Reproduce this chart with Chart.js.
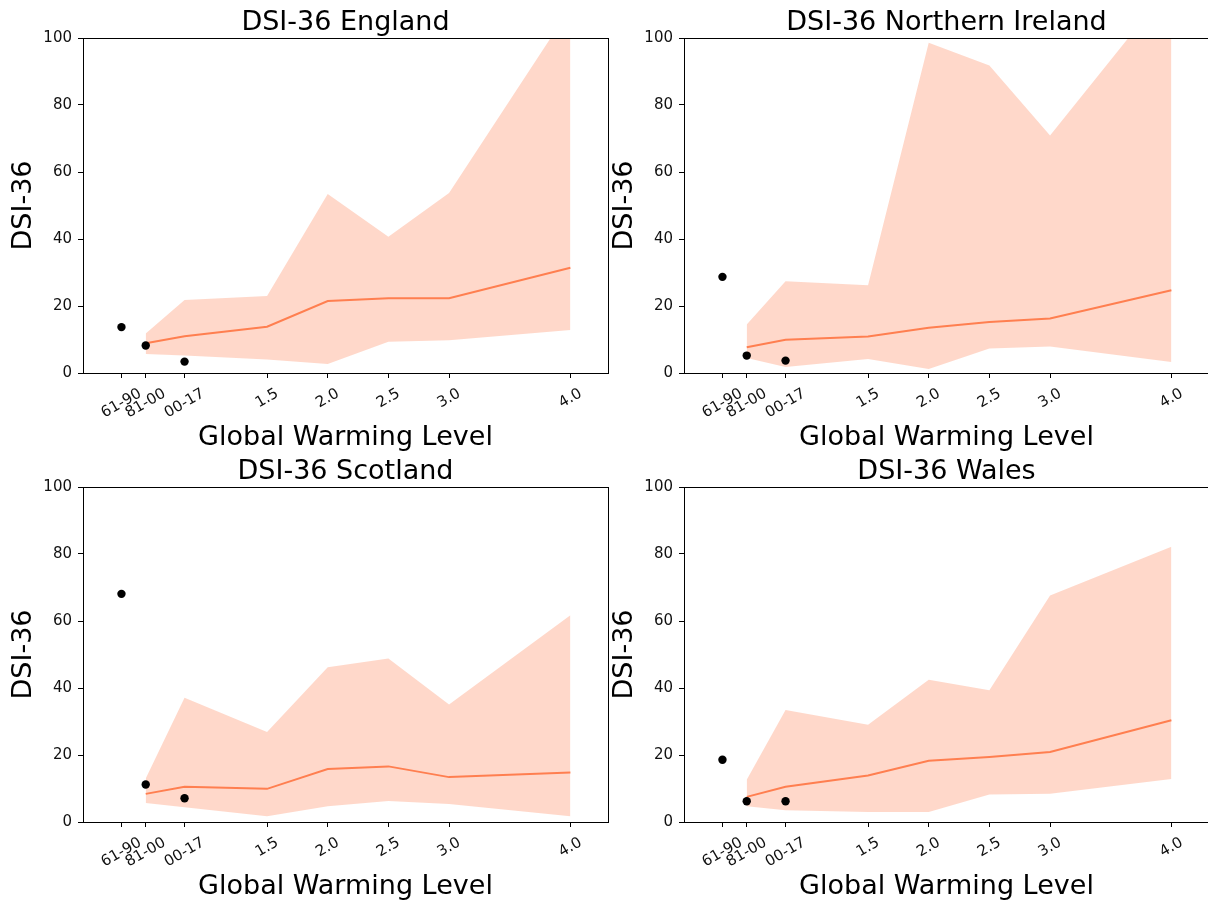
<!DOCTYPE html>
<html>
<head>
<meta charset="utf-8">
<script src="https://cdn.jsdelivr.net/npm/chart.js@4.4.1/dist/chart.umd.min.js"></script>
<style>
  html, body { margin: 0; padding: 0; background: #fff; overflow: hidden; width: 1208px; height: 904px; }
  canvas { position: absolute; }
</style>
</head>
<body>
<canvas id="c-eng" width="620" height="460" style="left:0px;top:0px"></canvas>
<canvas id="c-ni" width="620" height="460" style="left:601px;top:0px"></canvas>
<canvas id="c-sco" width="620" height="460" style="left:0px;top:449px"></canvas>
<canvas id="c-wal" width="620" height="460" style="left:601px;top:449px"></canvas>
<script>
// Tick positions on the warming-level axis and their labels
const tickValues = [0.3, 0.5, 0.82, 1.5, 2.0, 2.5, 3.0, 4.0];
const tickLabels = ['61-90', '81-00', '00-17', '1.5', '2.0', '2.5', '3.0', '4.0'];

// x positions of the projected ensemble and of the observed periods
const gwlX = [0.5, 0.82, 1.5, 2.0, 2.5, 3.0, 4.0];
const obsX = [0.3, 0.5, 0.82];

// England
const englandUpper  = [11.8, 21.8, 23.0, 53.4, 40.7, 53.7, 109.0];
const englandMedian = [8.9, 11.0, 13.8, 21.5, 22.3, 22.3, 31.4];
const englandLower  = [5.7, 5.2, 4.0, 2.7, 9.3, 9.8, 12.8];
const englandObs    = [13.7, 8.2, 3.4];

// Northern Ireland
const niUpper  = [14.5, 27.4, 26.2, 98.6, 91.8, 70.9, 116.0];
const niMedian = [7.7, 9.9, 10.9, 13.5, 15.2, 16.3, 24.7];
const niLower  = [4.5, 1.8, 4.2, 1.2, 7.3, 7.9, 3.3];
const niObs    = [28.7, 5.2, 3.7];

// Scotland
const scotlandUpper  = [13.0, 37.1, 26.9, 46.2, 48.8, 35.1, 61.7];
const scotlandMedian = [8.4, 10.5, 9.9, 15.8, 16.6, 13.4, 14.8];
const scotlandLower  = [5.7, 4.4, 1.7, 4.7, 6.3, 5.4, 1.7];
const scotlandObs    = [68.1, 11.2, 7.1];

// Wales
const walesUpper  = [12.6, 33.4, 29.0, 42.5, 39.3, 67.6, 82.2];
const walesMedian = [7.5, 10.5, 13.9, 18.3, 19.4, 20.9, 30.4];
const walesLower  = [4.7, 3.5, 3.0, 3.0, 8.2, 8.4, 12.8];
const walesObs    = [18.6, 6.2, 6.2];

const FONT = "'DejaVu Sans', sans-serif";

function pts(xs, ys) {
  return xs.map((x, i) => ({ x: x, y: ys[i] }));
}

// Box around the plotting area
const frame = {
  id: 'frame',
  afterDatasetsDraw(chart) {
    const { ctx, chartArea: a } = chart;
    ctx.save();
    ctx.strokeStyle = '#000';
    ctx.lineWidth = 1;
    ctx.strokeRect(Math.round(a.left) + 0.5, Math.round(a.top) + 0.5,
                   Math.round(a.right - a.left), Math.round(a.bottom - a.top));
    ctx.restore();
  }
};

// Slanted x tick labels, each centred under its tick
const slantedTicks = {
  id: 'slantedTicks',
  afterDraw(chart) {
    const xs = chart.scales.x;
    const { ctx, chartArea: a } = chart;
    const ang = 30 * Math.PI / 180;
    const size = 15;
    ctx.save();
    ctx.font = size + 'px ' + FONT;
    ctx.fillStyle = '#111';
    ctx.textAlign = 'center';
    ctx.textBaseline = 'middle';
    tickValues.forEach((v, i) => {
      const label = tickLabels[i];
      const w = ctx.measureText(label).width;
      const h = size * 1.16;
      const boxH = w * Math.sin(ang) + h * Math.cos(ang);
      const px = xs.getPixelForValue(v);
      const cy = a.bottom + 12 + boxH / 2;
      ctx.save();
      ctx.translate(px, cy);
      ctx.rotate(-ang);
      ctx.fillText(label, 0, 0);
      ctx.restore();
    });
    ctx.restore();
  }
};

function makePanel(id, title, upper, median, lower, obs) {
  const axisTitleFont = { family: FONT, size: 27, weight: 'normal', lineHeight: 1 };
  new Chart(document.getElementById(id), {
    type: 'line',
    data: {
      datasets: [
        { label: 'upper', data: pts(gwlX, upper), borderWidth: 0, borderColor: 'rgba(0,0,0,0)',
          pointRadius: 0, fill: '+1', backgroundColor: 'rgba(255,127,80,0.3)', order: 3 },
        { label: 'lower', data: pts(gwlX, lower), borderWidth: 0, borderColor: 'rgba(0,0,0,0)',
          pointRadius: 0, fill: false, order: 4 },
        { label: 'median', data: pts(gwlX, median), borderColor: '#ff7f50', borderWidth: 2,
          pointRadius: 0, fill: false, order: 2 },
        { type: 'scatter', label: 'observed', data: pts(obsX, obs), backgroundColor: '#000',
          borderColor: '#000', borderWidth: 0, pointRadius: 4.2, showLine: false, order: 1 }
      ]
    },
    options: {
      responsive: false,
      animation: false,
      devicePixelRatio: 1,
      layout: { padding: { left: 0, right: 12, top: 0, bottom: 0 } },
      plugins: {
        legend: { display: false },
        tooltip: { enabled: false },
        title: {
          display: true, text: title, fullSize: false, color: '#000',
          font: axisTitleFont, padding: { top: 9, bottom: 2 }
        }
      },
      scales: {
        x: {
          type: 'linear', min: -0.017, max: 4.31,
          afterBuildTicks: s => { s.ticks = tickValues.map(v => ({ value: v })); },
          afterFit: s => { s.height = 87; },
          ticks: { display: false },
          grid: { drawOnChartArea: false, drawTicks: true, tickLength: 5, color: '#000', lineWidth: 1 },
          border: { display: false },
          title: { display: true, text: 'Global Warming Level', color: '#000',
                   font: axisTitleFont, padding: { top: 0, bottom: 8.8 } }
        },
        y: {
          min: 0, max: 100,
          afterFit: s => { s.width = 83; },
          ticks: { stepSize: 20, color: '#111', font: { family: FONT, size: 15 }, padding: 6 },
          grid: { drawOnChartArea: false, drawTicks: true, tickLength: 5, color: '#000', lineWidth: 1 },
          border: { display: false },
          title: { display: true, text: 'DSI-36', color: '#000',
                   font: axisTitleFont, padding: { top: 10.5, bottom: 0 } }
        }
      }
    },
    plugins: [frame, slantedTicks]
  });
}

makePanel('c-eng', 'DSI-36 England', englandUpper, englandMedian, englandLower, englandObs);
makePanel('c-ni', 'DSI-36 Northern Ireland', niUpper, niMedian, niLower, niObs);
makePanel('c-sco', 'DSI-36 Scotland', scotlandUpper, scotlandMedian, scotlandLower, scotlandObs);
makePanel('c-wal', 'DSI-36 Wales', walesUpper, walesMedian, walesLower, walesObs);
</script>
</body>
</html>
